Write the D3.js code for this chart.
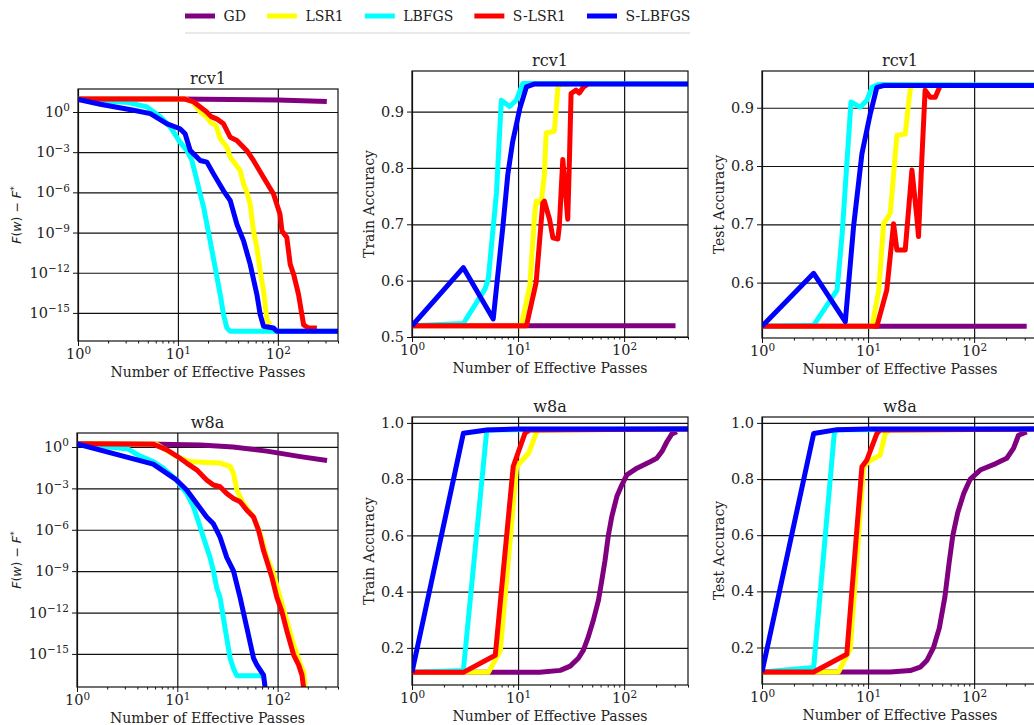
<!DOCTYPE html>
<html>
<head>
<meta charset="utf-8">
<script src="https://cdn.jsdelivr.net/npm/d3@7"></script>
<style>
  body { margin: 0; background: #fff; overflow: hidden; }
  text { font-family: "DejaVu Serif", serif; fill: #222; }
</style>
</head>
<body>
<script>
// methods, in legend / drawing order
const methods = ["GD", "LSR1", "LBFGS", "S-LSR1", "S-LBFGS"];

// rcv1 : F(w) - F*  vs effective passes
const rcv1Loss = {
  "GD":      [[1, 9.5], [10, 9.2], [100, 7.8], [309, 6]],
  "LSR1":    [[1, 9.5], [12, 9.5], [14.3, 5], [16.7, 1.0], [19.3, 0.45], [21.5, 0.15], [24, 0.1], [26.5, 0.01], [30.9, 2.4e-3], [33.4, 4.2e-4], [42, 4.2e-5], [45.4, 4.2e-6], [49, 1e-6], [52.9, 1.3e-7], [57, 1.3e-9], [61.7, 7.5e-11], [66.6, 1.3e-12], [72, 4.2e-14], [77.6, 3.2e-16], [83.8, 1.3e-16]],
  "LBFGS":   [[1, 9.5], [3.2, 5], [4.9, 2.4], [6.7, 0.42], [8.4, 0.075], [10.5, 5.6e-3], [12.3, 1.3e-3], [13.8, 2.4e-4], [15.5, 7.5e-6], [16.7, 7.5e-7], [18.1, 7.5e-8], [19.5, 4.2e-9], [21, 2.4e-10], [23.6, 2.4e-12], [26.5, 2.4e-14], [28.6, 7.5e-16], [30.9, 7.5e-17], [33.4, 4.2e-17], [400, 4.2e-17]],
  "S-LSR1":  [[1, 9.5], [11.5, 9.5], [14.2, 6], [16.6, 2.5], [19.3, 1.05], [21.5, 0.45], [25, 0.28], [28.6, 0.13], [33.4, 0.013], [38.9, 7.5e-3], [49, 1.3e-3], [57, 2.4e-4], [72, 1.3e-5], [90.5, 7.5e-7], [105, 2.4e-8], [110, 1.3e-9], [123, 4.2e-10], [133, 4.2e-12], [144, 7.5e-13], [161, 2.4e-14], [181, 1.3e-16], [203, 7.5e-17], [246, 7.5e-17]],
  "S-LBFGS": [[1, 8.5], [1.67, 3.8], [3.6, 1.33], [5.3, 0.75], [7.8, 0.13], [10.5, 0.056], [11.8, 0.024], [13.3, 1.3e-3], [16.7, 2.4e-4], [19.5, 1.8e-4], [22.7, 2.4e-5], [28.6, 1.3e-6], [33.4, 2.4e-7], [38.9, 4.2e-9], [45.4, 2.4e-10], [52.9, 4.2e-12], [61.7, 2.4e-14], [66.6, 7.5e-16], [72, 1e-16], [90.5, 7.5e-17], [97.7, 4.2e-17], [400, 4.2e-17]]
};

// rcv1 : train accuracy
const rcv1Train = {
  "GD":      [[1, 0.52], [305, 0.52]],
  "LSR1":    [[1, 0.52], [10.7, 0.52], [12.9, 0.591], [14.3, 0.715], [14.8, 0.741], [16.5, 0.738], [17.7, 0.788], [18.4, 0.862], [22, 0.865], [23.7, 0.941], [24.5, 0.948], [30, 0.948]],
  "LBFGS":   [[1, 0.52], [3.05, 0.524], [4.87, 0.585], [5.24, 0.603], [6.26, 0.756], [6.95, 0.92], [8.33, 0.909], [9.6, 0.92], [11.1, 0.95], [400, 0.949]],
  "S-LSR1":  [[1, 0.52], [12, 0.52], [14.8, 0.597], [17.1, 0.738], [17.7, 0.741], [19.8, 0.709], [21.3, 0.676], [23.7, 0.674], [24.5, 0.697], [26.4, 0.815], [28.4, 0.744], [29.4, 0.709], [30.5, 0.815], [31.6, 0.932], [35.2, 0.938], [37.8, 0.933], [41.5, 0.944], [45, 0.948]],
  "S-LBFGS": [[1, 0.52], [3.05, 0.623], [5.83, 0.532], [7.2, 0.697], [8.0, 0.788], [8.9, 0.847], [10.4, 0.906], [12, 0.944], [14.3, 0.949], [400, 0.949]]
};

// rcv1 : test accuracy
const rcv1Test = {
  "GD":      [[1, 0.525], [313, 0.525]],
  "LSR1":    [[1, 0.525], [10.9, 0.525], [12.6, 0.587], [14, 0.701], [16.2, 0.719], [18.7, 0.853], [22.4, 0.855], [24.9, 0.93], [26, 0.938]],
  "LBFGS":   [[1, 0.525], [3.07, 0.527], [5.1, 0.587], [5.7, 0.684], [6.9, 0.91], [8.4, 0.901], [9.75, 0.913], [10.9, 0.935], [12.5, 0.94], [400, 0.939]],
  "S-LSR1":  [[1, 0.525], [12.1, 0.525], [15, 0.587], [17.4, 0.701], [18.7, 0.656], [22.4, 0.656], [25.9, 0.793], [28.8, 0.713], [29.9, 0.679], [32.1, 0.81], [34.5, 0.93], [38.5, 0.918], [43, 0.918], [47.9, 0.938], [55, 0.938]],
  "S-LBFGS": [[1, 0.525], [3.07, 0.616], [6.1, 0.533], [7.3, 0.696], [8.75, 0.821], [10.5, 0.89], [12.1, 0.935], [14, 0.938], [400, 0.938]]
};

// w8a : F(w) - F*
const w8aLoss = {
  "GD":      [[1, 1.7], [6.7, 1.6], [17, 1.4], [36, 1.0], [78, 0.5], [169, 0.2], [311, 0.105]],
  "LSR1":    [[1, 1.7], [6.2, 1.6], [9.8, 0.21], [13.4, 0.089], [19.6, 0.076], [26.7, 0.068], [33.6, 0.039], [36.3, 0.0126], [39.2, 7.6e-4], [45.7, 8e-5], [57.5, 8.5e-6], [67.1, 5.1e-7], [78, 1e-8], [91.2, 6e-10], [106, 1.2e-11], [124, 2.3e-13], [144.5, 4.6e-15], [169, 1.6e-16], [182, 5.1e-17], [189, 3e-18]],
  "LBFGS":   [[1, 1.7], [3.24, 0.71], [4.2, 0.23], [5.75, 0.089], [7.24, 0.029], [9.8, 4.1e-3], [12.4, 4.3e-4], [14.5, 4.5e-5], [16.9, 1.6e-6], [18.2, 2.9e-7], [21.2, 1e-8], [22.9, 1.05e-9], [24.7, 6.3e-11], [26.7, 1.2e-11], [28.8, 4.1e-13], [31.1, 1.4e-14], [33.6, 5e-16], [36.3, 8.9e-17], [39.2, 2.6e-17], [72.4, 2.6e-17]],
  "S-LSR1":  [[1, 1.7], [5.75, 1.6], [7.8, 0.64], [9.8, 0.23], [12.4, 0.068], [15.6, 0.022], [19.6, 4.1e-3], [22.9, 1.75e-3], [26.7, 1.3e-3], [31.1, 4.3e-4], [36.3, 1.85e-4], [42.3, 1.06e-4], [49.4, 2.6e-5], [57.5, 8.5e-6], [64.6, 8.9e-7], [72.4, 3.1e-8], [78, 5.7e-9], [87.8, 3.5e-10], [98.5, 1.2e-11], [110, 1.26e-12], [124, 4.3e-14], [144.5, 8.5e-16], [162, 1.6e-16], [175, 2.9e-17], [182, 3e-18]],
  "S-LBFGS": [[1, 1.7], [5.75, 0.057], [7.8, 0.0126], [9.8, 4.1e-3], [12.4, 7.6e-4], [15.6, 8e-5], [19.6, 8.5e-6], [22.9, 2.7e-6], [26.7, 2.9e-7], [31.1, 1e-8], [36.3, 1.05e-9], [42.3, 1.2e-11], [49.4, 7.6e-14], [57.5, 5e-16], [62.1, 1.6e-16], [72.4, 2.9e-17], [75.3, 3e-18]]
};

// w8a : train accuracy
const w8aTrain = {
  "GD":      [[1, 0.113], [16, 0.113], [25, 0.12], [31, 0.135], [37, 0.163], [41.3, 0.192], [46, 0.24], [51.4, 0.3], [57.3, 0.37], [61.6, 0.44], [66, 0.51], [71, 0.6], [76.5, 0.667], [85.3, 0.738], [95, 0.779], [106, 0.815], [132, 0.839], [176, 0.862], [203, 0.874], [227, 0.898], [253, 0.933], [282, 0.961], [314, 0.969]],
  "LSR1":    [[1, 0.113], [5.25, 0.113], [6.8, 0.19], [9.7, 0.845], [12.6, 0.893], [15, 0.969], [16, 0.975], [400, 0.978]],
  "LBFGS":   [[1, 0.113], [3.05, 0.12], [5.07, 0.975], [400, 0.978]],
  "S-LSR1":  [[1, 0.113], [3.05, 0.113], [6.1, 0.174], [9.0, 0.845], [11.6, 0.963], [12.8, 0.975], [400, 0.978]],
  "S-LBFGS": [[1, 0.113], [3.05, 0.963], [5.07, 0.975], [10, 0.978], [400, 0.978]]
};

// w8a : test accuracy
const w8aTest = {
  "GD":      [[1, 0.113], [16.2, 0.113], [25, 0.118], [31, 0.13], [36, 0.155], [41.4, 0.2], [47, 0.27], [53, 0.38], [58, 0.5], [63, 0.6], [70, 0.68], [80, 0.75], [92, 0.8], [114, 0.832], [160, 0.855], [203, 0.874], [235, 0.909], [262, 0.956], [313, 0.968]],
  "LSR1":    [[1, 0.113], [5.27, 0.113], [6.8, 0.194], [9.07, 0.844], [10.1, 0.862], [13, 0.885], [14.5, 0.962], [16, 0.975], [400, 0.978]],
  "LBFGS":   [[1, 0.113], [3.07, 0.129], [4.8, 0.962], [5.1, 0.976], [400, 0.978]],
  "S-LSR1":  [[1, 0.113], [3.07, 0.113], [6.3, 0.176], [8.75, 0.844], [9.75, 0.868], [12.1, 0.962], [13, 0.975], [400, 0.978]],
  "S-LBFGS": [[1, 0.113], [3.07, 0.962], [5.1, 0.976], [10, 0.978], [400, 0.978]]
};

// tick values
const xTicks = [1, 10, 100];
const lossTicks = [1, 1e-3, 1e-6, 1e-9, 1e-12, 1e-15];
const rcv1TrainTicks = [0.5, 0.6, 0.7, 0.8, 0.9];
const rcv1TestTicks = [0.6, 0.7, 0.8, 0.9];
const w8aTicks = [0.2, 0.4, 0.6, 0.8, 1.0];

const colors = {
  "GD": "#800080", "LSR1": "#ffff00", "LBFGS": "#00ffff",
  "S-LSR1": "#ff0000", "S-LBFGS": "#0000ff"
};

const W = 1034, H = 725;

const svg = d3.select("body").append("svg")
  .attr("width", W)
  .attr("height", H);

// panel layout (plot rectangles)
const panels = [
  { data: rcv1Loss,  title: "rcv1", ylabel: "loss",  log: true,  yDomain: [8e-18, 52],     yTicks: lossTicks,     box: [78, 338, 89, 341] },
  { data: rcv1Train, title: "rcv1", ylabel: "Train Accuracy", log: false, yDomain: [0.5, 0.972],   yTicks: rcv1TrainTicks, box: [412, 688, 71, 337] },
  { data: rcv1Test,  title: "rcv1", ylabel: "Test Accuracy",  log: false, yDomain: [0.505, 0.963], yTicks: rcv1TestTicks,  box: [762, 1038, 71, 338] },
  { data: w8aLoss,   title: "w8a",  ylabel: "loss",  log: true,  yDomain: [4e-18, 10.3],   yTicks: lossTicks,     box: [77, 338, 433, 687] },
  { data: w8aTrain,  title: "w8a",  ylabel: "Train Accuracy", log: false, yDomain: [0.068, 1.021], yTicks: w8aTicks,  box: [412, 688, 417, 685] },
  { data: w8aTest,   title: "w8a",  ylabel: "Test Accuracy",  log: false, yDomain: [0.07, 1.021],  yTicks: w8aTicks,  box: [762, 1038, 417, 684] }
];

function powLabel(text, exp) {
  text.text(null);
  text.append("tspan").text("10");
  text.append("tspan")
    .attr("dy", "-0.55em")
    .attr("font-size", "0.72em")
    .text(exp < 0 ? "\u2212" + (-exp) : exp);
}

function minorTicks() {
  const out = [];
  [1, 10, 100].forEach(b => {
    for (let k = 2; k <= 9; k++) if (b * k <= 400) out.push(b * k);
  });
  return out;
}

panels.forEach((p, i) => {
  const [x0, x1, y0, y1] = p.box;
  const x = d3.scaleLog().domain([1, 400]).range([x0, x1]);
  const y = (p.log ? d3.scaleLog() : d3.scaleLinear()).domain(p.yDomain).range([y1, y0]);
  const g = svg.append("g");

  svg.append("clipPath").attr("id", "clip" + i)
    .append("rect")
    .attr("x", x0).attr("y", y0)
    .attr("width", x1 - x0).attr("height", y1 - y0);

  // grid
  g.append("g")
    .attr("transform", `translate(0,${y1})`)
    .call(d3.axisBottom(x).tickValues(xTicks).tickSize(-(y1 - y0)).tickFormat(""))
    .call(s => s.select(".domain").remove())
    .selectAll("line").attr("stroke", "#111").attr("stroke-width", 1.2);
  g.append("g")
    .attr("transform", `translate(${x0},0)`)
    .call(d3.axisLeft(y).tickValues(p.yTicks).tickSize(-(x1 - x0)).tickFormat(""))
    .call(s => s.select(".domain").remove())
    .selectAll("line").attr("stroke", "#111").attr("stroke-width", 1.2);

  // series
  const line = d3.line().x(d => x(d[0])).y(d => y(d[1]));
  const lines = g.append("g").attr("clip-path", `url(#clip${i})`);
  methods.forEach(m => {
    lines.append("path")
      .datum(p.data[m])
      .attr("d", line)
      .attr("fill", "none")
      .attr("stroke", colors[m])
      .attr("stroke-width", 5)
      .attr("stroke-linejoin", "round");
  });

  // frame
  g.append("rect")
    .attr("x", x0).attr("y", y0)
    .attr("width", x1 - x0).attr("height", y1 - y0)
    .attr("fill", "none").attr("stroke", "#111").attr("stroke-width", 1.2);

  // x axis
  const xa = g.append("g")
    .attr("transform", `translate(0,${y1})`)
    .call(d3.axisBottom(x).tickValues(xTicks).tickSize(5).tickPadding(3));
  xa.select(".domain").remove();
  xa.attr("font-size", 14.5).attr("font-family", null);
  xa.selectAll(".tick text").each(function (d) { powLabel(d3.select(this), Math.round(Math.log10(d))); });

  const xm = g.append("g")
    .attr("transform", `translate(0,${y1})`)
    .call(d3.axisBottom(x).tickValues(minorTicks()).tickSize(2.5).tickFormat(""));
  xm.select(".domain").remove();

  // y axis
  const ya = g.append("g")
    .attr("transform", `translate(${x0},0)`)
    .call(d3.axisLeft(y).tickValues(p.yTicks).tickSize(5).tickPadding(3)
      .tickFormat(p.log ? "" : d3.format(".1f")));
  ya.select(".domain").remove();
  ya.attr("font-size", 14.5).attr("font-family", null);
  if (p.log) {
    ya.selectAll(".tick text").each(function (d) { powLabel(d3.select(this), Math.round(Math.log10(d))); });
  }
  g.selectAll(".tick line").attr("stroke", "#111");

  // title
  g.append("text")
    .attr("x", (x0 + x1) / 2)
    .attr("y", y0 - 5)
    .attr("text-anchor", "middle")
    .attr("font-size", 16)
    .text(p.title);

  // x label
  g.append("text")
    .attr("x", (x0 + x1) / 2)
    .attr("y", y1 + 36)
    .attr("text-anchor", "middle")
    .attr("font-size", 14)
    .text("Number of Effective Passes");

  // y label
  const cy = (y0 + y1) / 2;
  if (p.ylabel === "loss") {
    const t = g.append("text")
      .attr("transform", `translate(17,${cy}) rotate(-90)`)
      .attr("text-anchor", "middle")
      .attr("dy", "0.35em")
      .attr("font-size", 12.5)
      .style("font-family", "'DejaVu Sans', sans-serif");
    t.append("tspan").attr("font-style", "italic").text("F");
    t.append("tspan").text("(");
    t.append("tspan").attr("font-style", "italic").text("w");
    t.append("tspan").text(") \u2212 ");
    t.append("tspan").attr("font-style", "italic").text("F");
    t.append("tspan").attr("dy", "-0.5em").attr("font-size", "0.75em").text("*");
  } else {
    g.append("text")
      .attr("transform", `translate(${x0 - 43},${cy}) rotate(-90)`)
      .attr("text-anchor", "middle")
      .attr("dy", "0.35em")
      .attr("font-size", 14)
      .text(p.ylabel);
  }
});

// legend
const leg = svg.append("g");
let lx = 185;
methods.forEach(m => {
  leg.append("line")
    .attr("x1", lx).attr("x2", lx + 30)
    .attr("y1", 16).attr("y2", 16)
    .attr("stroke", colors[m]).attr("stroke-width", 5);
  const t = leg.append("text")
    .attr("x", lx + 38.5).attr("y", 21)
    .attr("font-size", 14)
    .text(m);
  lx = lx + 38.5 + t.node().getComputedTextLength() + 21;
});
leg.append("line")
  .attr("x1", 185).attr("x2", 690)
  .attr("y1", 33).attr("y2", 33)
  .attr("stroke", "#e2e2e2").attr("stroke-width", 1.5);
</script>
</body>
</html>
